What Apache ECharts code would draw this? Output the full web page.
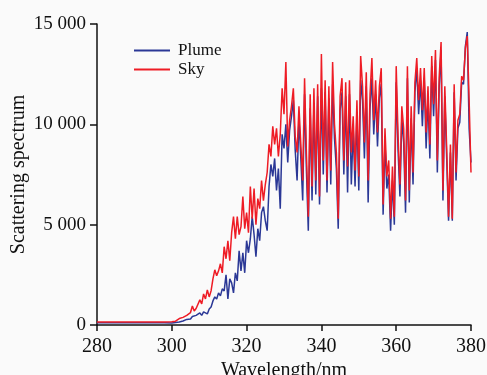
<!DOCTYPE html>
<html>
<head>
<meta charset="utf-8">
<script src="https://cdn.jsdelivr.net/npm/echarts@6/dist/echarts.min.js"></script>
<style>
  html, body { margin: 0; padding: 0; background: #fafafa; }
  #chart { width: 487px; height: 375px; }
</style>
</head>
<body>
<div id="chart"></div>
<script>
const wavelengths = [
  280, 282, 284, 286, 288, 290, 292, 294, 296, 298,
  300, 300.5, 301, 301.5, 302, 302.5, 303, 303.5, 304, 304.5,
  305, 305.5, 306, 306.5, 307, 307.5, 308, 308.5, 309, 309.5,
  310, 310.5, 311, 311.5, 312, 312.5, 313, 313.5, 314, 314.5,
  315, 315.5, 316, 316.5, 317, 317.5, 318, 318.5, 319, 319.5,
  320, 320.5, 321, 321.5, 322, 322.5, 323, 323.5, 324, 324.5,
  325, 325.5, 326, 326.5, 327, 327.5, 328, 328.5, 329, 329.5,
  330, 330.5, 331, 331.5, 332, 332.5, 333, 333.5, 334, 334.5,
  335, 335.5, 336, 336.5, 337, 337.5, 338, 338.5, 339, 339.5,
  340, 340.5, 341, 341.5, 342, 342.5, 343, 343.5, 344, 344.5,
  345, 345.5, 346, 346.5, 347, 347.5, 348, 348.5, 349, 349.5,
  350, 350.5, 351, 351.5, 352, 352.5, 353, 353.5, 354, 354.5,
  355, 355.5, 356, 356.5, 357, 357.5, 358, 358.5, 359, 359.5,
  360, 360.5, 361, 361.5, 362, 362.5, 363, 363.5, 364, 364.5,
  365, 365.5, 366, 366.5, 367, 367.5, 368, 368.5, 369, 369.5,
  370, 370.5, 371, 371.5, 372, 372.5, 373, 373.5, 374, 374.5,
  375, 375.5, 376, 376.5, 377, 377.5, 378, 378.5, 379, 379.5,
  380
];

const plume = [
  110, 110, 110, 110, 110, 110, 110, 110, 110, 110,
  100, 110, 120, 130, 150, 180, 200, 230, 280, 260,
  300, 420, 350, 480, 520, 600, 480, 650, 700, 550,
  800, 900, 1200, 1400, 1300, 1600, 1450, 1800, 1700, 2500,
  1300, 2300, 2100, 1600, 2600, 2200, 3700, 2700, 3600, 2600,
  4200, 3600, 4300, 5400, 4500, 3400, 4800, 4200, 5600, 5900,
  5200, 4700, 6900, 8000, 7400, 8300, 6700, 7800, 5800, 9500,
  8800, 10000, 8100, 9700, 10400, 11200, 8700, 7200, 10300, 8300,
  6200, 11500, 7700, 4700, 10800, 6200, 11000, 6500, 11400, 6000,
  11800, 7500, 11600, 6600, 11300, 7000, 12000, 9300, 7800, 4800,
  10700, 11600, 7500, 11400, 6600, 11500, 7000, 9800, 6900, 10500,
  6700, 12200, 11200, 8300, 11900, 6100, 10800, 12300, 9500, 11500,
  8900, 11300, 12000, 5500, 9100, 6800, 7500, 4700, 7200, 5000,
  12100, 8700, 6400, 10300, 9100, 5600, 12300, 6100, 10300, 7000,
  11600, 12800, 10500, 12200, 9900, 12300, 8800, 11300, 8300, 12900,
  10400, 13200, 7600, 11900, 13700, 6200, 11400, 8300, 5200, 8600,
  5200, 11600, 7200, 9800, 10100, 12100, 12000, 13900, 14600, 9800,
  8100
];

const sky = [
  150, 150, 150, 150, 150, 150, 150, 150, 150, 150,
  160, 170, 190, 210, 320, 260, 380, 330, 480, 420,
  620, 950, 700, 820, 760, 1250, 1050, 1550, 1300, 1750,
  1400, 1700, 2300, 2750, 2450, 2700, 3050, 2600, 3900, 3300,
  4200, 3200, 4600, 5400, 4300, 5400, 4500, 4900, 6400, 4800,
  5600, 4600, 6900, 5300, 6800, 5000, 6300, 5800, 7200, 6200,
  7000, 7600, 9000, 8400, 9900, 9000, 9800, 8400, 9500, 11800,
  10500, 13100, 8900, 10200, 10900, 11800, 9400, 8600, 10900, 9000,
  7200, 12300, 8500, 5400, 11500, 6900, 11800, 7200, 12000, 6400,
  13500, 8200, 12200, 7200, 11900, 7700, 13100, 10000, 8600, 5300,
  11400, 12300, 8200, 12100, 7900, 12200, 8600, 10400, 7700, 11200,
  7400, 13400, 11900, 9100, 12600, 7200, 11500, 13300, 10200, 12200,
  9600, 11900, 12800, 6000, 9800, 7400, 8200, 5300, 7900, 5400,
  12900, 9400, 7000, 10900, 9800, 6200, 12900, 6700, 10900, 7600,
  12100, 13300, 11200, 12800, 10700, 12800, 9600, 11900, 9000, 13400,
  11000, 13700, 8200, 12400, 14100, 6700, 11900, 8800, 5400, 9000,
  5300, 12000, 7600, 10200, 10500, 12400, 12200, 13800, 14400, 11200,
  7600
];

const xTicks = { min: 280, max: 380, interval: 20 };
const yTicks = { min: 0, max: 15000, interval: 5000 };

const serif = '"Liberation Serif", "Times New Roman", serif';

function pairs(values) {
  return wavelengths.map((w, i) => [w, values[i]]);
}

const chart = echarts.init(document.getElementById('chart'));

chart.setOption({
  backgroundColor: '#fafafa',
  animation: false,
  grid: { left: 97, right: 16, top: 24, bottom: 50, outerBoundsMode: 'none', containLabel: false },
  legend: {
    orient: 'vertical',
    left: 129,
    top: 37,
    icon: 'rect',
    itemWidth: 36,
    itemHeight: 2,
    itemGap: 2,
    textStyle: { fontFamily: serif, fontSize: 17, color: '#111', padding: [0, 0, 0, 3] },
    data: ['Plume', 'Sky']
  },
  xAxis: {
    type: 'value',
    min: xTicks.min,
    max: xTicks.max,
    interval: xTicks.interval,
    name: 'Wavelength/nm',
    nameLocation: 'middle',
    nameGap: 36,
    nameMoveOverlap: false,
    nameTextStyle: { fontFamily: serif, fontSize: 20, color: '#111' },
    axisLine: { lineStyle: { color: '#111', width: 1.5 } },
    axisTick: { length: 6, lineStyle: { color: '#111', width: 1.5 } },
    axisLabel: { fontFamily: serif, fontSize: 20, color: '#111', margin: 12 },
    splitLine: { show: false }
  },
  yAxis: {
    type: 'value',
    min: yTicks.min,
    max: yTicks.max,
    interval: yTicks.interval,
    name: 'Scattering spectrum',
    nameLocation: 'middle',
    nameGap: 68,
    nameMoveOverlap: false,
    nameTextStyle: { fontFamily: serif, fontSize: 20, color: '#111' },
    axisLine: { show: true, lineStyle: { color: '#111', width: 1.5 } },
    axisTick: { show: true, length: 7, lineStyle: { color: '#111', width: 1.5 } },
    axisLabel: {
      fontFamily: serif, fontSize: 19, color: '#111', margin: 11,
      formatter: v => v >= 1000 ? Math.floor(v / 1000) + ' 000' : String(v)
    },
    splitLine: { show: false }
  },
  series: [
    {
      name: 'Plume',
      type: 'line',
      data: pairs(plume),
      symbol: 'none',
      lineStyle: { color: '#2b3896', width: 1.5 },
      itemStyle: { color: '#2b3896' }
    },
    {
      name: 'Sky',
      type: 'line',
      data: pairs(sky),
      symbol: 'none',
      lineStyle: { color: '#ee1c25', width: 1.5 },
      itemStyle: { color: '#ee1c25' }
    }
  ]
});
</script>
</body>
</html>
